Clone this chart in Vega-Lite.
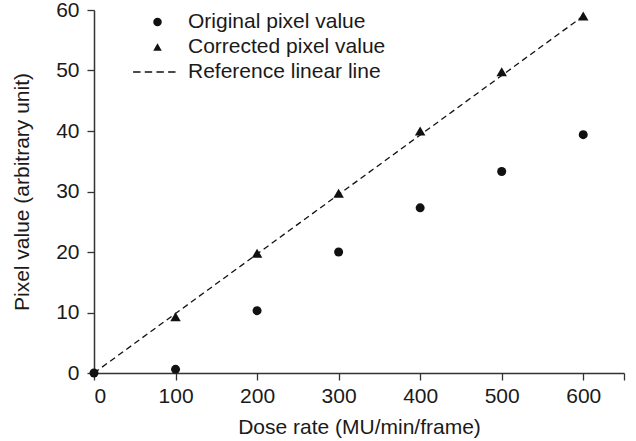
{
  "$schema": "https://vega.github.io/schema/vega-lite/v6.json",
  "width": 530,
  "height": 363,
  "autosize": "none",
  "padding": {"left": 94, "top": 10, "right": 12, "bottom": 68},
  "background": "white",
  "config": {
    "view": {"stroke": null},
    "font": "Liberation Sans",
    "axis": {
      "grid": false,
      "domainColor": "#333333",
      "domainWidth": 1.5,
      "tickColor": "#333333",
      "tickWidth": 1.3,
      "tickSize": 7,
      "labelFont": "Liberation Sans",
      "labelFontSize": 21,
      "labelColor": "#1a1a1a",
      "titleFont": "Liberation Sans",
      "titleFontSize": 21,
      "titleFontWeight": "normal",
      "titleColor": "#1a1a1a"
    }
  },
  "datasets": {
    "pts": [
      {"dose": 0, "value": 0, "series": "Original pixel value"},
      {"dose": 100, "value": 0.6, "series": "Original pixel value"},
      {"dose": 200, "value": 10.3, "series": "Original pixel value"},
      {"dose": 300, "value": 20.0, "series": "Original pixel value"},
      {"dose": 400, "value": 27.3, "series": "Original pixel value"},
      {"dose": 500, "value": 33.3, "series": "Original pixel value"},
      {"dose": 600, "value": 39.4, "series": "Original pixel value"},
      {"dose": 100, "value": 9.3, "series": "Corrected pixel value"},
      {"dose": 200, "value": 19.8, "series": "Corrected pixel value"},
      {"dose": 300, "value": 29.7, "series": "Corrected pixel value"},
      {"dose": 400, "value": 40.0, "series": "Corrected pixel value"},
      {"dose": 500, "value": 49.8, "series": "Corrected pixel value"},
      {"dose": 600, "value": 59.0, "series": "Corrected pixel value"}
    ],
    "ref": [
      {"dose": 0, "value": 0},
      {"dose": 600, "value": 59.0}
    ]
  },
  "layer": [
    {
      "data": {"name": "ref"},
      "mark": {"type": "line", "strokeDash": [6, 4], "color": "#111111", "strokeWidth": 1.3},
      "encoding": {
        "x": {"field": "dose", "type": "quantitative", "scale": {"domain": [0, 650], "nice": false},
          "axis": {"title": "Dose rate (MU/min/frame)", "values": [0, 100, 200, 300, 400, 500, 600, 650], "labelExpr": "datum.value == 650 ? '' : datum.label", "labelPadding": 5, "titlePadding": 10}},
        "y": {"field": "value", "type": "quantitative", "scale": {"domain": [0, 60], "nice": false},
          "axis": {"title": "Pixel value (arbitrary unit)", "values": [0, 10, 20, 30, 40, 50, 60], "labelPadding": 8, "titlePadding": 23}}
      }
    },
    {
      "data": {"name": "pts"},
      "mark": {"type": "point", "filled": true, "color": "#111111", "opacity": 1},
      "encoding": {
        "x": {"field": "dose", "type": "quantitative"},
        "y": {"field": "value", "type": "quantitative"},
        "size": {
          "field": "series",
          "type": "nominal",
          "scale": {"domain": ["Original pixel value", "Corrected pixel value"], "range": [81, 110]},
          "legend": null
        },
        "shape": {
          "field": "series",
          "type": "nominal",
          "scale": {
            "domain": ["Original pixel value", "Corrected pixel value", "Reference linear line"],
            "range": ["circle", "triangle-up", "M-5.75,-0.17H-4V0.17H-5.75Z M-3,-0.17H-1.25V0.17H-3Z M-0.25,-0.17H1.5V0.17H-0.25Z M2.5,-0.17H4.25V0.17H2.5Z"]
          },
          "legend": {
            "title": null,
            "orient": "none",
            "legendX": 53,
            "legendY": 1.5,
            "padding": 0,
            "symbolSize": 72,
            "rowPadding": 3,
            "labelOffset": 20,
            "labelLimit": 0,
            "labelFontSize": 21,
            "labelFont": "Liberation Sans",
            "labelColor": "#1a1a1a",
            "symbolFillColor": "#111111",
            "symbolOpacity": 1
          }
        }
      }
    }
  ]
}
